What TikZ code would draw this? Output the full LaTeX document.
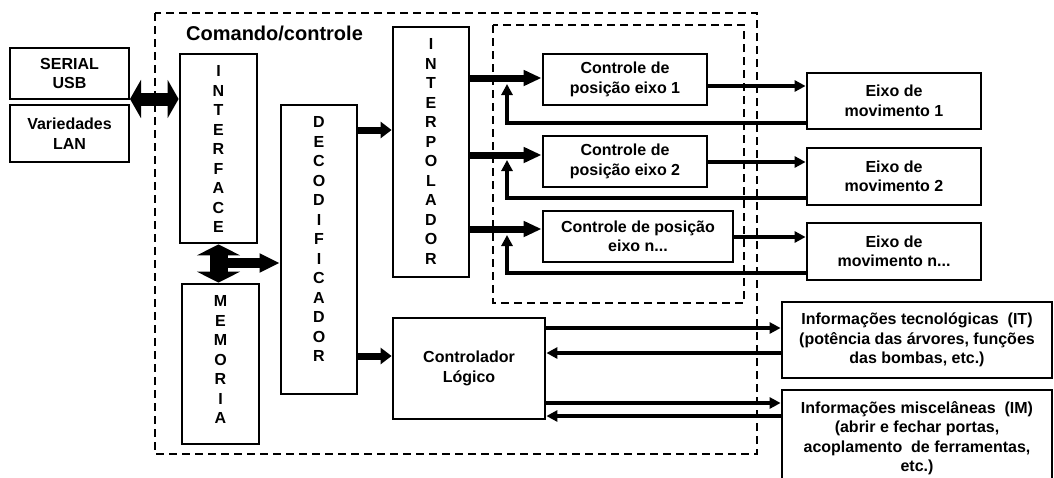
\documentclass[tikz,border=0pt]{standalone}
\usepackage{fontspec}
\setmainfont{Liberation Sans}
\usetikzlibrary{arrows.meta}

\newcommand{\boxfont}{\fontsize{16}{19.5}\selectfont\bfseries}
\newcommand{\titlefont}{\fontsize{20}{23}\selectfont\bfseries}

\begin{document}
\begin{tikzpicture}[x=1pt, y=-1pt,
    blk/.style = {draw, line width=2.8pt, inner sep=0pt, align=center, font=\boxfont},
    vtext/.style = {anchor=north, inner sep=0pt, yshift=-13pt, align=center, font=\boxfont},
    frame/.style = {line width=2pt, dash pattern=on 8pt off 5pt},
    bus/.style = {line width=13pt, {Triangle[length=11pt,width=38pt]}-{Triangle[length=11pt,width=38pt]}},
    membus/.style = {line width=18pt, {Triangle[length=11pt,width=43pt]}-{Triangle[length=11pt,width=43pt]}},
    branch/.style = {line width=10pt, -{Triangle[length=20pt,width=18pt]}},
    fatA/.style = {line width=7pt, -{Triangle[length=11pt,width=16pt]}},
    fatB/.style = {line width=7pt, -{Triangle[length=18pt,width=15pt]}},
    thin/.style = {line width=3.2pt, -{Triangle[length=11pt,width=11pt]}}]
      \useasboundingbox (0,0) rectangle (1054,477);
      \draw[frame] (155,13) rectangle (757,454);
      \draw[frame] (493,25) rectangle (744,303);
      \node[anchor=west, inner sep=0pt, font=\titlefont] (titulo) at (186,33) {Comando/controle};

      \node[blk, minimum width=119pt, minimum height=51pt] (serial) at (69.5,73.5) {SERIAL\\USB};
      \node[blk, minimum width=119pt, minimum height=57pt] (lan) at (69.5,133.5) {Variedades\\LAN};
      \node[blk, minimum width=77pt, minimum height=189pt,
            label={[vtext]north:{I\\N\\T\\E\\R\\F\\A\\C\\E}}] (interface) at (218.5,148.5) {};
      \node[blk, minimum width=77pt, minimum height=160pt,
            label={[vtext]north:{M\\E\\M\\O\\R\\I\\A}}] (memoria) at (220.5,364) {};
      \node[blk, minimum width=76pt, minimum height=289pt,
            label={[vtext]north:{D\\E\\C\\O\\D\\I\\F\\I\\C\\A\\D\\O\\R}}] (decod) at (319,249.5) {};
      \node[blk, minimum width=76pt, minimum height=250pt,
            label={[vtext]north:{I\\N\\T\\E\\R\\P\\O\\L\\A\\D\\O\\R}}] (interp) at (431,152) {};

      \node[blk, minimum width=164pt, minimum height=51pt] (ctrlA) at (625,79.5) {Controle de\\posição eixo 1};
      \node[blk, minimum width=164pt, minimum height=51pt] (ctrlB) at (625,161.5) {Controle de\\posição eixo 2};
      \node[blk, minimum width=190pt, minimum height=51pt] (ctrlN) at (638,236.5) {Controle de posição\\eixo n...};
      \node[blk, minimum width=174pt, minimum height=56pt] (eixoA) at (894,101) {Eixo de\\movimento 1};
      \node[blk, minimum width=174pt, minimum height=57pt] (eixoB) at (894,176.5) {Eixo de\\movimento 2};
      \node[blk, minimum width=174pt, minimum height=57pt] (eixoN) at (894,251.5) {Eixo de\\movimento n...};

      \node[blk, minimum width=152pt, minimum height=101pt] (clp) at (469,368.5) {Controlador\\Lógico};
      \node[blk, minimum width=270pt, minimum height=76pt] (info) at (917,340)
            {Informações tecnológicas~ (IT)\\(potência das árvores, funções\\das bombas, etc.)};
      \node[blk, minimum width=270pt, minimum height=96pt] (misc) at (917,438)
            {Informações miscelâneas~ (IM)\\(abrir e fechar portas,\\acoplamento~ de ferramentas,\\etc.)};

      \coordinate (busL) at (130,99);
      \coordinate (mb) at (221,263);
      \coordinate (fbA) at (507,84);
      \coordinate (fbB) at (507,160);
      \coordinate (fbN) at (507,235);

      \draw[bus] (busL) -- (busL -| interface.west);
      \draw[membus] (interface.south) -- (interface.south |- memoria.north);
      \draw[branch] (mb) -- (mb -| decod.west);
      \draw[fatA] (decod.east |- 0,130) -- (interp.west |- 0,130);
      \draw[fatA] (decod.east |- 0,356) -- (clp.west |- 0,356);

      \draw[fatB] (interp.east |- 0,78) -- (ctrlA.west |- 0,78);
      \draw[fatB] (interp.east |- 0,155) -- (ctrlB.west |- 0,155);
      \draw[fatB] (interp.east |- 0,229) -- (ctrlN.west |- 0,229);

      \draw[thin] (ctrlA.east |- 0,86) -- (eixoA.west |- 0,86);
      \draw[thin] (ctrlB.east |- 0,162) -- (eixoB.west |- 0,162);
      \draw[thin] (ctrlN.east |- 0,237) -- (eixoN.west |- 0,237);
      \draw[thin] (eixoA.west |- 0,123) -| (fbA);
      \draw[thin] (eixoB.west |- 0,198) -| (fbB);
      \draw[thin] (eixoN.west |- 0,273) -| (fbN);

      \draw[thin] (clp.east |- 0,328) -- (info.west |- 0,328);
      \draw[thin] (info.west |- 0,353) -- (clp.east |- 0,353);
      \draw[thin] (clp.east |- 0,403) -- (misc.west |- 0,403);
      \draw[thin] (misc.west |- 0,416) -- (clp.east |- 0,416);
    \end{tikzpicture}
\end{document}
